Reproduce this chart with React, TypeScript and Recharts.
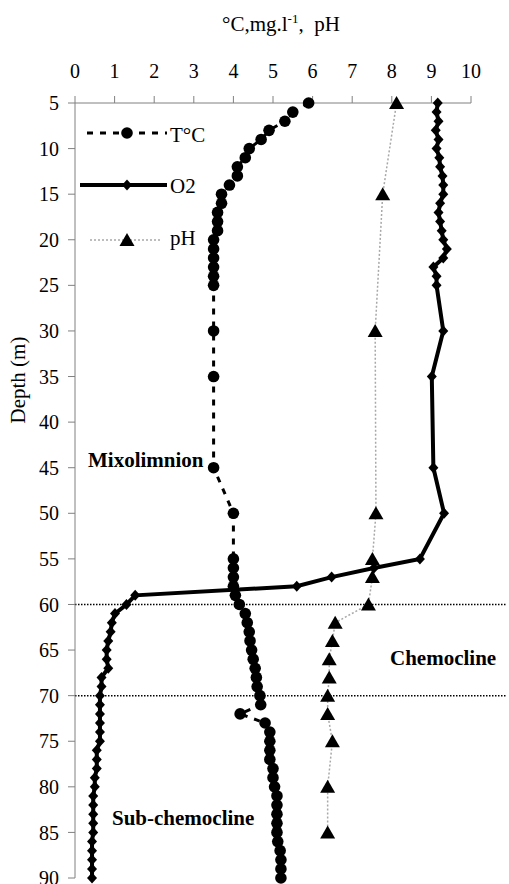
import React from "react";
import { ScatterChart, Scatter, XAxis, YAxis, ReferenceLine } from "recharts";

// depth profile, values
const tempDepths = [5, 6, 7, 8, 9, 10, 11, 12, 13, 14, 15, 16, 17, 18, 19, 20, 21, 22, 23, 24, 25, 30, 35, 45, 50, 55, 56, 57, 58, 59, 60, 61, 62, 63, 64, 65, 66, 67, 68, 69, 70, 71, 72, 73, 74, 75, 76, 77, 78, 79, 80, 81, 82, 83, 84, 85, 86, 87, 88, 89, 90];
const tempValues = [5.9, 5.5, 5.3, 4.9, 4.7, 4.4, 4.3, 4.1, 4.1, 3.9, 3.7, 3.7, 3.6, 3.6, 3.6, 3.5, 3.5, 3.5, 3.5, 3.5, 3.5, 3.5, 3.5, 3.5, 4.0, 4.0, 4.0, 4.0, 4.0, 4.05, 4.15, 4.3, 4.35, 4.4, 4.42, 4.46, 4.5, 4.55, 4.58, 4.6, 4.67, 4.69, 4.17, 4.8, 4.92, 4.92, 4.92, 4.92, 5.0, 5.0, 5.04, 5.1, 5.1, 5.1, 5.1, 5.1, 5.12, 5.18, 5.2, 5.2, 5.2];

const o2Depths = [5, 6, 7, 8, 9, 10, 11, 12, 13, 14, 15, 16, 17, 18, 19, 20, 21, 22, 23, 24, 25, 30, 35, 45, 50, 55, 56, 57, 58, 59, 60, 61, 62, 63, 64, 65, 66, 67, 68, 69, 70, 71, 72, 73, 74, 75, 76, 77, 78, 79, 80, 81, 82, 83, 84, 85, 86, 87, 88, 89, 90];
const o2Values = [9.16, 9.13, 9.18, 9.11, 9.18, 9.13, 9.2, 9.22, 9.28, 9.3, 9.3, 9.22, 9.18, 9.22, 9.26, 9.3, 9.39, 9.3, 9.05, 9.13, 9.13, 9.3, 9.01, 9.05, 9.32, 8.71, 7.55, 6.48, 5.6, 1.52, 1.3, 1.01, 0.93, 0.9, 0.84, 0.8, 0.8, 0.84, 0.67, 0.67, 0.63, 0.63, 0.63, 0.63, 0.63, 0.63, 0.55, 0.55, 0.55, 0.5, 0.5, 0.46, 0.46, 0.46, 0.46, 0.46, 0.43, 0.43, 0.43, 0.43, 0.43];

const phDepths = [5, 15, 30, 50, 55, 57, 60, 62, 64, 66, 68, 70, 72, 75, 80, 85];
const phValues = [8.12, 7.77, 7.58, 7.6, 7.51, 7.51, 7.41, 6.57, 6.5, 6.42, 6.42, 6.38, 6.38, 6.5, 6.38, 6.38];

const xTicks = [0, 1, 2, 3, 4, 5, 6, 7, 8, 9, 10];
const depthTicks = [5, 10, 15, 20, 25, 30, 35, 40, 45, 50, 55, 60, 65, 70, 75, 80, 85, 90];
const zoneBounds = [60, 70];

const zip = (depths: number[], values: number[]) =>
  depths.map((d, i) => ({ depth: d, v: values[i] }));

const tempData = zip(tempDepths, tempValues);
const o2Data = zip(o2Depths, o2Values);
const phData = zip(phDepths, phValues);

const FONT = "Liberation Serif, Times New Roman, serif";
const AXIS_GRAY = "#808080";

const Circle = (p: any) => <circle cx={p.cx} cy={p.cy} r={5.8} fill="#000" />;
const Diamond = (p: any) => (
  <polygon
    points={`${p.cx},${p.cy - 5.5} ${p.cx + 5},${p.cy} ${p.cx},${p.cy + 5.5} ${p.cx - 5},${p.cy}`}
    fill="#000"
  />
);
const Triangle = (p: any) => (
  <polygon
    points={`${p.cx},${p.cy - 7} ${p.cx + 7.5},${p.cy + 6} ${p.cx - 7.5},${p.cy + 6}`}
    fill="#000"
  />
);

const Overlay = () => (
  <svg
    width={509}
    height={884}
    style={{ position: "absolute", left: 0, top: 0, pointerEvents: "none" }}
    fontFamily={FONT}
  >
    <text x={222} y={31} fontSize={21} fill="#000" style={{ whiteSpace: "pre" }}>
      °C,mg.l
      <tspan fontSize={13} dy={-8}>-1</tspan>
      <tspan dy={8}>{",  pH"}</tspan>
    </text>
    <text x={25} y={380} fontSize={21} textAnchor="middle" transform="rotate(-90 25 380)" fill="#000">
      Depth (m)
    </text>

    {/* legend */}
    <line x1={87} y1={133} x2={167} y2={133} stroke="#000" strokeWidth={3} strokeDasharray="6 7" />
    <Circle cx={127} cy={133} />
    <text x={170} y={142} fontSize={21}>T°C</text>
    <line x1={80} y1={185} x2={167} y2={185} stroke="#000" strokeWidth={4} />
    <Diamond cx={127} cy={185} />
    <text x={170} y={193} fontSize={21}>O2</text>
    <line x1={90} y1={240} x2={160} y2={240} stroke="#a8a8a8" strokeWidth={1.5} strokeDasharray="2 2" />
    <Triangle cx={127} cy={240} />
    <text x={170} y={245} fontSize={21}>pH</text>

    <text x={88} y={467} fontSize={21} fontWeight="bold">Mixolimnion</text>
    <text x={390} y={665} fontSize={21} fontWeight="bold">Chemocline</text>
    <text x={112} y={825} fontSize={21} fontWeight="bold">Sub-chemocline</text>
  </svg>
);

export default function App() {
  return (
    <div style={{ position: "fixed", left: 0, top: 0, width: 509, height: 884, background: "#fff", fontFamily: FONT }}>
      <ScatterChart width={509} height={884} margin={{ top: 63, right: 38, bottom: 6, left: 15 }}>
        <XAxis
          type="number"
          dataKey="v"
          orientation="top"
          domain={[0, 10]}
          ticks={xTicks}
          interval={0}
          height={40}
          tickSize={7}
          tickMargin={18}
          axisLine={{ stroke: AXIS_GRAY }}
          tickLine={{ stroke: AXIS_GRAY }}
          tick={{ fill: "#000", fontSize: 20, fontFamily: FONT }}
        />
        <YAxis
          type="number"
          dataKey="depth"
          reversed
          domain={[5, 90]}
          ticks={depthTicks}
          interval={0}
          width={60}
          tickSize={7}
          tickMargin={9}
          axisLine={{ stroke: AXIS_GRAY }}
          tickLine={{ stroke: AXIS_GRAY }}
          tick={{ fill: "#000", fontSize: 20, fontFamily: FONT }}
        />
        {zoneBounds.map((d) => (
          <ReferenceLine
            key={d}
            segment={[{ x: 0, y: d }, { x: 10.9, y: d }]}
            ifOverflow="visible"
            stroke="#000"
            strokeWidth={1.5}
            strokeDasharray="1.5 1.5"
          />
        ))}
        <Scatter
          data={phData}
          line={{ stroke: "#a8a8a8", strokeWidth: 1.5, strokeDasharray: "2 2" }}
          shape={Triangle}
          isAnimationActive={false}
        />
        <Scatter
          data={tempData}
          line={{ stroke: "#000", strokeWidth: 3, strokeDasharray: "6 7" }}
          shape={Circle}
          isAnimationActive={false}
        />
        <Scatter
          data={o2Data}
          line={{ stroke: "#000", strokeWidth: 4 }}
          shape={Diamond}
          isAnimationActive={false}
        />
      </ScatterChart>
      <Overlay />
    </div>
  );
}
